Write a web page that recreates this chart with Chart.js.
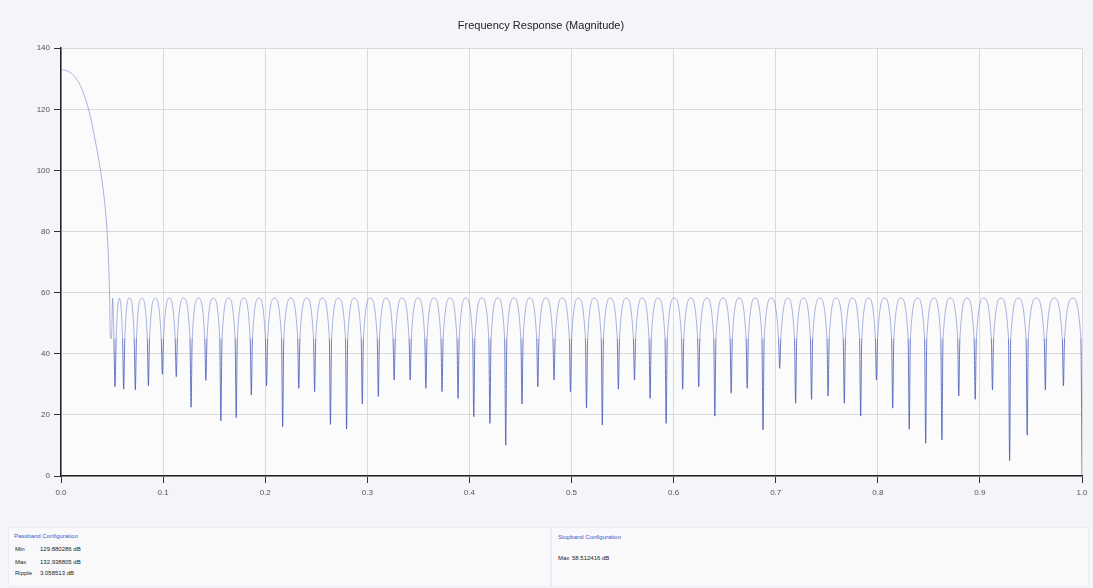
<!DOCTYPE html>
<html>
<head>
<meta charset="utf-8">
<script src="https://cdn.jsdelivr.net/npm/chart.js@4/dist/chart.umd.min.js"></script>
<style>
  html, body { margin: 0; padding: 0; background: #f5f4f8; }
  body { width: 1093px; height: 588px; position: relative; overflow: hidden; font-family: "Liberation Sans", Arial, sans-serif; }
  #wrap { position: absolute; left: 0; top: 0; width: 1093px; height: 510px; }
  .panel { position: absolute; top: 527px; height: 58px; background: rgba(255,255,255,0.45); border: 1px solid #ededf1; }
  .ptitle { position: absolute; color: #3a58c8; font-size: 6px; white-space: nowrap; }
  .row { position: absolute; color: #222; font-size: 6px; white-space: nowrap; }
  .row .v { position: absolute; }
</style>
</head>
<body>
<div id="wrap"><canvas id="c" width="1093" height="510"></canvas></div>

<div class="panel" style="left:8px; width:541px;"></div>
<div class="panel" style="left:551px; width:536px;"></div>
<div class="ptitle" style="left:14px; top:533px;">Passband Configuration</div>
<div class="row" style="left:15px; top:546px;">Min<span class="v" style="left:25px;">129.880286 dB</span></div>
<div class="row" style="left:15px; top:559px;">Max<span class="v" style="left:25px;">132.938805 dB</span></div>
<div class="row" style="left:15px; top:570px;">Ripple<span class="v" style="left:25px;">3.058513 dB</span></div>
<div class="ptitle" style="left:558px; top:534px;">Stopband Configuration</div>
<div class="row" style="left:558px; top:555px;">Max<span class="v" style="left:14px;">58.512416 dB</span></div>

<script>
// ---- data ----
const passFreq = [0, 0.005, 0.01, 0.015, 0.02, 0.027, 0.034, 0.040, 0.0435, 0.046, 0.0476];
const passDb   = [132.9, 132.7, 131.8, 130.0, 127.0, 120.0, 109.0, 97.0, 87.0, 75.0, 59.0];

const nullFreq = [0.0483, 0.0529, 0.0614, 0.0728, 0.0856, 0.0993, 0.1129, 0.1274, 0.1419, 0.1566,
  0.1716, 0.1864, 0.2013, 0.2171, 0.2329, 0.2484, 0.2639, 0.2797, 0.2951, 0.3108,
  0.3263, 0.3420, 0.3574, 0.3732, 0.3889, 0.4043, 0.4201, 0.4356, 0.4515, 0.4670,
  0.4829, 0.4990, 0.5147, 0.5302, 0.5459, 0.5617, 0.5770, 0.5927, 0.6089, 0.6246,
  0.6404, 0.6564, 0.6721, 0.6876, 0.7039, 0.7195, 0.7351, 0.7513, 0.7672, 0.7832,
  0.7987, 0.8146, 0.8308, 0.8469, 0.8628, 0.8793, 0.8954, 0.9123, 0.9291, 0.9463,
  0.9641, 0.9818, 1.0];
const nullDb = [45.6, 29.2, 28.4, 28.2, 29.5, 33.3, 32.5, 22.5, 31.3, 18.0,
  19.1, 26.5, 29.5, 16.1, 28.7, 27.6, 16.9, 15.4, 23.6, 26.0,
  31.4, 31.4, 28.7, 27.6, 25.4, 19.4, 17.2, 10.1, 23.6, 29.2,
  31.4, 27.6, 22.2, 16.7, 28.4, 31.4, 25.4, 17.2, 28.4, 29.2,
  19.6, 27.1, 28.7, 15.1, 35.2, 23.8, 25.1, 26.2, 23.8, 19.6,
  31.4, 22.2, 15.3, 10.7, 11.8, 26.2, 25.1, 28.2, 5.0, 13.4,
  28.2, 29.5, 0];
const lobePeakDb = 58.2;   // stopband sidelobe tops
const archFootDb = 45;     // level where the arches meet at each null

const xTicks = [0, 0.1, 0.2, 0.3, 0.4, 0.5, 0.6, 0.7, 0.8, 0.9, 1.0];
const yTicks = [0, 20, 40, 60, 80, 100, 120, 140];

// ---- build the line from the arrays ----
const footOffset = 0.0011;
const pts = passFreq.map((f, i) => ({ x: f, y: passDb[i] }));
for (let i = 0; i < nullFreq.length; i++) {
  if (i > 0) pts.push({ x: nullFreq[i] - footOffset, y: archFootDb });
  pts.push({ x: nullFreq[i], y: nullDb[i] });
  if (i < nullFreq.length - 1) {
    pts.push({ x: nullFreq[i] + footOffset, y: archFootDb });
    pts.push({ x: (nullFreq[i] + nullFreq[i + 1]) / 2, y: lobePeakDb });
  }
}

const archColor = 'rgba(105,122,200,0.62)';
const spikeColor = 'rgba(62,82,182,0.85)';

const plotBg = {
  id: 'plotBg',
  beforeDraw(chart) {
    const { ctx, chartArea: a } = chart;
    ctx.save();
    ctx.fillStyle = '#fbfbfc';
    ctx.fillRect(a.left, a.top, a.right - a.left, a.bottom - a.top);
    ctx.restore();
  }
};

new Chart(document.getElementById('c'), {
  type: 'line',
  data: {
    datasets: [{
      data: pts,
      borderColor: archColor,
      borderWidth: 0.9,
      pointRadius: 0,
      cubicInterpolationMode: 'monotone',
      segment: {
        borderColor: ctx => (ctx.p0.parsed.y < archFootDb - 0.5 || ctx.p1.parsed.y < archFootDb - 0.5) ? spikeColor : archColor
      }
    }]
  },
  options: {
    responsive: false,
    animation: false,
    events: [],
    layout: { padding: { left: 0, right: 11, top: 0, bottom: 0 } },
    plugins: {
      legend: { display: false },
      tooltip: { enabled: false },
      title: {
        display: true,
        text: 'Frequency Response (Magnitude)',
        color: '#222',
        font: { family: '"Liberation Sans", Arial, sans-serif', size: 11, weight: 'normal' },
        padding: { top: 19, bottom: 16 }
      }
    },
    scales: {
      x: {
        type: 'linear', min: 0, max: 1,
        afterBuildTicks: s => { s.ticks = xTicks.map(v => ({ value: v })); },
        afterFit: s => { s.height = 34; },
        ticks: {
          color: '#555', padding: 5,
          font: { family: '"Liberation Sans", Arial, sans-serif', size: 8 },
          callback: v => Number(v).toFixed(1)
        },
        grid: { color: '#dadade', lineWidth: 1, tickColor: '#333', tickLength: 7, drawTicks: true },
        border: { color: '#222', width: 1.5 }
      },
      y: {
        type: 'linear', min: 0, max: 140,
        afterBuildTicks: s => { s.ticks = yTicks.map(v => ({ value: v })); },
        afterFit: s => { s.width = 61; },
        ticks: {
          color: '#555', padding: 4,
          font: { family: '"Liberation Sans", Arial, sans-serif', size: 8 }
        },
        grid: { color: '#dadade', lineWidth: 1, tickColor: '#333', tickLength: 7, drawTicks: true },
        border: { color: '#222', width: 1.5 }
      }
    }
  },
  plugins: [plotBg]
});
</script>
</body>
</html>
